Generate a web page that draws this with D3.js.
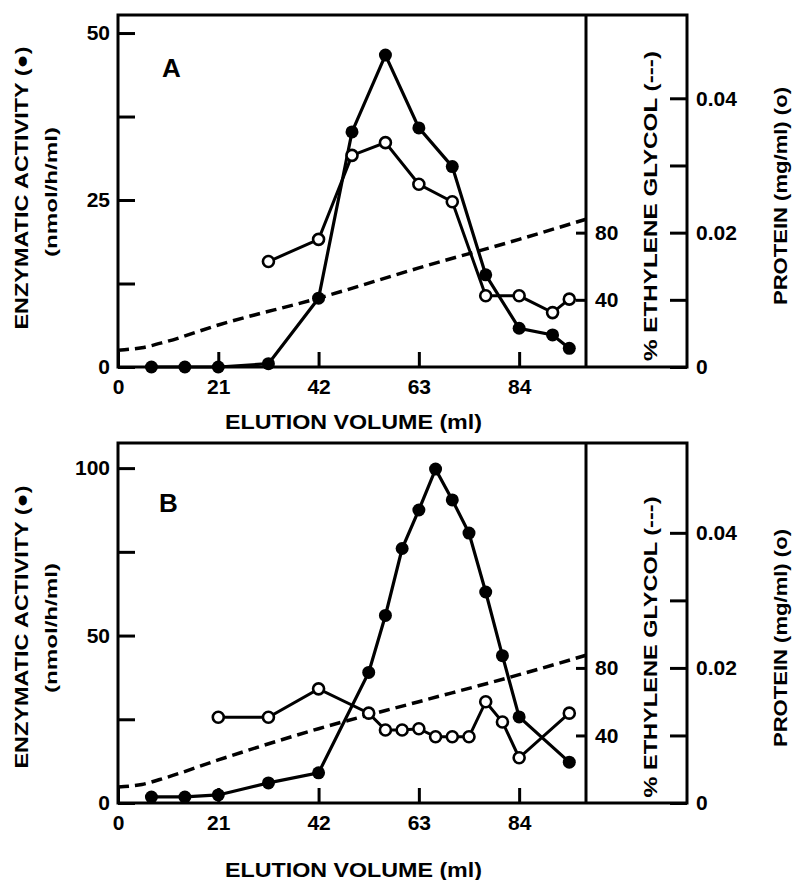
<!DOCTYPE html>
<html>
<head>
<meta charset="utf-8">
<script src="https://cdn.jsdelivr.net/npm/d3@7"></script>
<style>
  body { margin: 0; background: #fff; }
  text { font-family: "Liberation Sans", Arial, sans-serif; font-weight: bold; fill: #000; }
</style>
</head>
<body>
<div class="canva"></div>
<script>
// Panel A data
const aEnzVol = [7, 14, 21, 31.5, 42, 49, 56, 63, 70, 77, 84, 91, 94.5]
const aEnz = [0, 0, 0, 0.5, 10.3, 35.2, 46.7, 35.8, 30, 13.8, 5.8, 4.8, 2.8]
const aProtVol = [31.5, 42, 49, 56, 63, 70, 77, 84, 91, 94.5]
const aProt = [0.0157, 0.019, 0.0315, 0.0334, 0.0272, 0.0246, 0.0106, 0.0106, 0.0081, 0.0101]
const aEgVol = [0, 5, 10, 21, 42, 63, 84, 98]
const aEg = [10, 11.5, 15, 25, 41, 59, 76, 88]

// Panel B data
const bEnzVol = [7, 14, 21, 31.5, 42, 52.5, 56, 59.5, 63, 66.5, 70, 73.5, 77, 80.5, 84, 94.5]
const bEnz = [1.8, 1.8, 2.4, 6, 9, 39, 56, 76, 87.5, 99.7, 90.5, 80.6, 63, 44, 25.7, 12.2]
const bProtVol = [21, 31.5, 42, 52.5, 56, 59.5, 63, 66.5, 70, 73.5, 77, 80.5, 84, 94.5]
const bProt = [0.0127, 0.0127, 0.0169, 0.0133, 0.0108, 0.0108, 0.011, 0.0098, 0.0098, 0.0098, 0.015, 0.012, 0.0067, 0.0133]
const bEgVol = [0, 5, 10, 21, 42, 63, 84, 98]
const bEg = [9.5, 11, 15, 25.5, 44, 60, 76, 87.5]

// ticks
const volTicks = [0, 21, 42, 63, 84]
const aEnzTicks = [0, 12.5, 25, 37.5, 50]
const aEnzLabels = [0, 25, 50]
const bEnzTicks = [0, 25, 50, 75, 100]
const bEnzLabels = [0, 50, 100]
const egTicks = [40, 80]
const protTicks = [0, 0.01, 0.02, 0.03, 0.04]
const protLabels = [0, 0.02, 0.04]

const svg = d3.select('.canva').append('svg')
  .attr('width', 792)
  .attr('height', 880)

const left = 118, mid = 586, right = 687

const x = d3.scaleLinear().domain([0, 98]).range([left, mid])

function zip(a, b) { return a.map((v, i) => [v, b[i]]) }

function drawPanel(p) {
  const g = svg.append('g')
  const yEnz = d3.scaleLinear().domain([0, p.enzMax]).range([p.bottom, p.top])
  const yProt = d3.scaleLinear().domain([0, p.protMax]).range([p.bottom, p.top])
  const yEg = d3.scaleLinear().domain([0, p.protMax * 4000]).range([p.bottom, p.top])

  // frame
  g.append('rect')
    .attr('x', left).attr('y', p.top)
    .attr('width', right - left).attr('height', p.bottom - p.top)
    .attr('fill', 'none').attr('stroke', '#000').attr('stroke-width', 3)
  g.append('line')
    .attr('x1', mid).attr('x2', mid).attr('y1', p.top).attr('y2', p.bottom)
    .attr('stroke', '#000').attr('stroke-width', 3)

  // left axis
  const la = g.append('g').attr('transform', `translate(${left},0)`)
    .call(d3.axisLeft(yEnz).tickValues(p.enzTicks).tickSize(-17).tickPadding(8)
      .tickFormat(d => p.enzLabels.includes(d) ? d : ''))
  // bottom axis
  const ba = g.append('g').attr('transform', `translate(0,${p.bottom})`)
    .call(d3.axisBottom(x).tickValues(volTicks).tickSize(-15).tickPadding(12))
  // middle EG axis
  const ma = g.append('g').attr('transform', `translate(${mid},0)`)
    .call(d3.axisRight(yEg).tickValues(egTicks).tickSize(-10).tickPadding(9))
  // right protein axis
  const ra = g.append('g').attr('transform', `translate(${right},0)`)
    .call(d3.axisRight(yProt).tickValues(protTicks).tickSize(-17).tickPadding(9)
      .tickFormat(d => protLabels.includes(d) ? (d === 0 ? '0' : d.toFixed(2)) : ''))

  ;[la, ba, ma, ra].forEach(a => {
    a.select('.domain').remove()
    a.selectAll('.tick line').attr('stroke', '#000').attr('stroke-width', 3)
    a.selectAll('.tick text').style('font-size', '21px')
      .style('font-family', '"Liberation Sans", Arial, sans-serif').style('font-weight', 'bold')
  })

  // ethylene glycol gradient
  g.append('path')
    .datum(zip(p.egVol, p.eg))
    .attr('fill', 'none').attr('stroke', '#000').attr('stroke-width', 3.5)
    .attr('stroke-dasharray', '11,6')
    .attr('d', d3.line().x(d => x(d[0])).y(d => yEg(d[1])).curve(d3.curveMonotoneX))

  // protein line + enzyme line
  g.append('path')
    .datum(zip(p.protVol, p.prot))
    .attr('fill', 'none').attr('stroke', '#000').attr('stroke-width', 3)
    .attr('d', d3.line().x(d => x(d[0])).y(d => yProt(d[1])))
  g.append('path')
    .datum(zip(p.enzVol, p.enz))
    .attr('fill', 'none').attr('stroke', '#000').attr('stroke-width', 3.2)
    .attr('d', d3.line().x(d => x(d[0])).y(d => yEnz(d[1])))

  g.selectAll('.open').data(zip(p.protVol, p.prot)).enter()
    .append('circle')
    .attr('cx', d => x(d[0])).attr('cy', d => yProt(d[1])).attr('r', 5.5)
    .attr('fill', '#fff').attr('stroke', '#000').attr('stroke-width', 2.6)
  g.selectAll('.filled').data(zip(p.enzVol, p.enz)).enter()
    .append('circle')
    .attr('cx', d => x(d[0])).attr('cy', d => yEnz(d[1])).attr('r', 6.5)
    .attr('fill', '#000')

  // labels
  g.append('text').attr('x', p.letterX).attr('y', p.letterY)
    .style('font-size', '26px').text(p.letter)

  g.append('text').attr('x', 353.5).attr('y', p.xTitleY)
    .attr('text-anchor', 'middle').attr('textLength', 257).attr('lengthAdjust', 'spacingAndGlyphs')
    .style('font-size', '21px').text('ELUTION VOLUME (ml)')

  function vtext(cx, cy, len, size, str) {
    g.append('text')
      .attr('transform', `translate(${cx},${cy}) rotate(-90)`)
      .attr('text-anchor', 'middle').attr('textLength', len).attr('lengthAdjust', 'spacingAndGlyphs')
      .style('font-size', size + 'px').text(str)
  }
  vtext(28, p.enzTitleY, 283, 19, 'ENZYMATIC ACTIVITY (●)')
  vtext(57, p.unitY, 130, 17, '(nmol/h/ml)')
  vtext(657, p.egTitleY, p.egLen, 19, '% ETHYLENE GLYCOL (---)')
  vtext(787, p.protTitleY, 218, 19, 'PROTEIN (mg/ml) (o)')
}

drawPanel({
  top: 15, bottom: 367, enzMax: 52.7, protMax: 0.0524,
  enzTicks: aEnzTicks, enzLabels: aEnzLabels,
  enzVol: aEnzVol, enz: aEnz, protVol: aProtVol, prot: aProt, egVol: aEgVol, eg: aEg,
  letter: 'A', letterX: 162, letterY: 77, xTitleY: 429,
  enzTitleY: 188, unitY: 192, egTitleY: 206, egLen: 310, protTitleY: 196
})

drawPanel({
  top: 443, bottom: 803, enzMax: 107.5, protMax: 0.0533,
  enzTicks: bEnzTicks, enzLabels: bEnzLabels,
  enzVol: bEnzVol, enz: bEnz, protVol: bProtVol, prot: bProt, egVol: bEgVol, eg: bEg,
  letter: 'B', letterX: 159, letterY: 512, xTitleY: 877,
  enzTitleY: 627, unitY: 628, egTitleY: 647, egLen: 301, protTitleY: 638
})
</script>
</body>
</html>
